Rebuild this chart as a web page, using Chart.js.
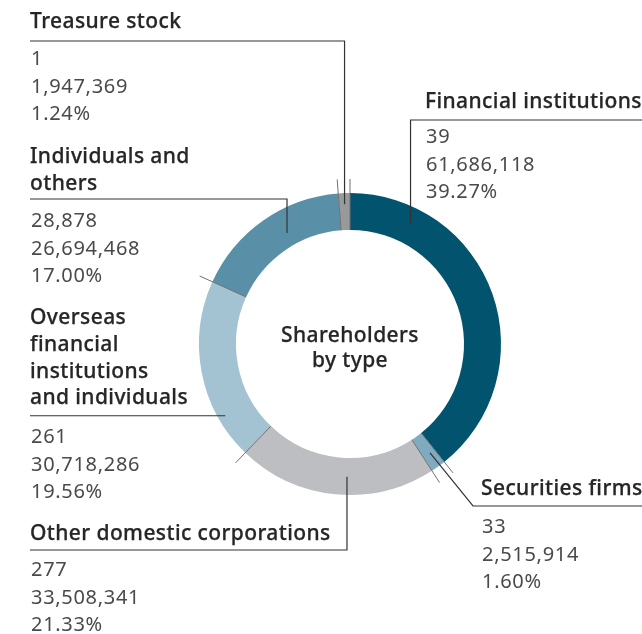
<!DOCTYPE html>
<html>
<head>
<meta charset="utf-8">
<script src="https://cdn.jsdelivr.net/npm/chart.js@4.4.1/dist/chart.umd.min.js"></script>
<style>
  html, body { margin: 0; padding: 0; background: #fff; }
  #wrap { width: 642px; height: 634px; position: relative; }
</style>
</head>
<body>
<div id="wrap"><canvas id="chartAccionistas"></canvas></div>
<script>
// Datos de accionistas por tipo (orden horario desde las 12)
const categorias = [
  "Financial institutions",
  "Securities firms",
  "Other domestic corporations",
  "Overseas financial institutions and individuals",
  "Individuals and others",
  "Treasure stock"
];
const accionistas = [39, 33, 277, 261, 28878, 1];
const acciones = [61686118, 2515914, 33508341, 30718286, 26694468, 1947369];
const porcentajes = [39.27, 1.60, 21.33, 19.56, 17.00, 1.24];

const colores = ["#02536e", "#7faabf", "#bdbec2", "#a3c3d2", "#5a90a7", "#98999b"];

// Posición de cada etiqueta y de su línea guía
// frac: punto a lo largo del arco (0..1), rad: entre radio interior y exterior (0..1)
const etiquetas = [
  { titulo: ["Financial institutions"], x: 425, tb: [108], ly: 120, vb: 143, frac: 0.19, rad: 0.54, guia: "right" },
  { titulo: ["Securities firms"], x: 481, tb: [495], ly: 506, vb: 533, frac: 0.4, rad: 0.57, guia: "diag", codo: 473 },
  { titulo: ["Other domestic corporations"], x: 30, tb: [540], ly: 550, vb: 576, frac: 0.445, rad: 0.51, guia: "left" },
  { titulo: ["Overseas", "financial", "institutions", "and individuals"], x: 30, tb: [324, 351, 378, 404], ly: 416, vb: 443, frac: 0.23, rad: 0.81, guia: "flat" },
  { titulo: ["Individuals and", "others"], x: 30, tb: [163, 190], ly: 199, vb: 227, frac: 0.59, rad: 0.37, guia: "left" },
  { titulo: ["Treasure stock"], x: 30, tb: [28], ly: 41, vb: 65, frac: 0.5, rad: 0.7, guia: "left" }
];

const fmt = n => n.toLocaleString("en-US");

// texto con trazo fino para un peso medio
function textoMedio(ctx, t, x, y) {
  ctx.fillText(t, x, y);
  ctx.strokeText(t, x, y);
}

const etiquetasPlugin = {
  id: "etiquetas",
  afterDraw(chart) {
    const ctx = chart.ctx;
    const arcs = chart.getDatasetMeta(0).data;
    ctx.save();

    // marcas en los bordes de cada segmento
    ctx.strokeStyle = "#707070";
    ctx.lineWidth = 1;
    arcs.forEach(a => {
      const ang = a.startAngle;
      const r0 = a.innerRadius, r1 = a.outerRadius + 14;
      ctx.beginPath();
      ctx.moveTo(a.x + Math.cos(ang) * r0, a.y + Math.sin(ang) * r0);
      ctx.lineTo(a.x + Math.cos(ang) * r1, a.y + Math.sin(ang) * r1);
      ctx.stroke();
    });

    // líneas guía y textos
    etiquetas.forEach((e, i) => {
      const a = arcs[i];
      const ang = a.startAngle + (a.endAngle - a.startAngle) * e.frac;
      const r = a.innerRadius + (a.outerRadius - a.innerRadius) * e.rad;
      const ax = a.x + Math.cos(ang) * r;
      const ay = a.y + Math.sin(ang) * r;

      ctx.strokeStyle = "#333";
      ctx.lineWidth = 1.2;
      ctx.beginPath();
      if (e.guia === "left") {
        ctx.moveTo(30, e.ly); ctx.lineTo(ax, e.ly); ctx.lineTo(ax, ay);
      } else if (e.guia === "right") {
        ctx.moveTo(642, e.ly); ctx.lineTo(ax, e.ly); ctx.lineTo(ax, ay);
      } else if (e.guia === "flat") {
        ctx.moveTo(30, ay); ctx.lineTo(ax, ay);
      } else {
        ctx.moveTo(642, e.ly); ctx.lineTo(e.codo, e.ly); ctx.lineTo(ax, ay);
      }
      ctx.stroke();

      ctx.textAlign = "left";
      ctx.textBaseline = "alphabetic";
      ctx.fillStyle = "#262626";
      ctx.strokeStyle = "#262626";
      ctx.lineWidth = 0.25;
      ctx.font = "500 21px 'Noto Sans'";
      ctx.letterSpacing = "0.4px";
      e.titulo.forEach((t, k) => textoMedio(ctx, t, e.x, e.tb[k]));

      ctx.fillStyle = "#4a4a4a";
      ctx.font = "400 20px 'Noto Sans'";
      ctx.letterSpacing = "0.7px";
      const valores = [fmt(accionistas[i]), fmt(acciones[i]), porcentajes[i].toFixed(2) + "%"];
      valores.forEach((v, k) => ctx.fillText(v, e.x + 1, e.vb + k * 27.5));
    });

    // texto central
    ctx.fillStyle = "#262626";
    ctx.strokeStyle = "#262626";
    ctx.lineWidth = 0.25;
    ctx.font = "500 21px 'Noto Sans'";
    ctx.letterSpacing = "0.4px";
    ctx.textAlign = "center";
    textoMedio(ctx, "Shareholders", arcs[0].x, 342);
    textoMedio(ctx, "by type", arcs[0].x, 367);
    ctx.restore();
  }
};

document.addEventListener("DOMContentLoaded", () => {
  new Chart(document.getElementById("chartAccionistas"), {
    type: "doughnut",
    data: {
      labels: categorias,
      datasets: [{
        data: porcentajes,
        backgroundColor: colores,
        borderWidth: 0
      }]
    },
    options: {
      responsive: true,
      maintainAspectRatio: false,
      animation: false,
      cutout: "75.5%",
      layout: { padding: { left: 199, right: 141, top: 193, bottom: 139 } },
      plugins: { legend: { display: false }, tooltip: { enabled: false } }
    },
    plugins: [etiquetasPlugin]
  });
});
</script>
</body>
</html>
